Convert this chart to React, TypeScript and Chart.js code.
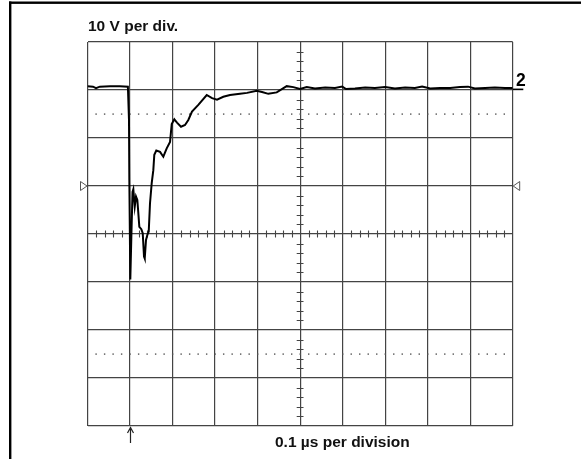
import { useEffect, useRef } from "react";
import { Chart, registerables } from "chart.js";

Chart.register(...registerables);

// time in ns (0 = trigger arrow), volts relative to the screen centre
const traceTime = [
  -100, -87, -80, -71, -47, -24, -5, -2.4, -1.6, 0.7, 3.5, 5.9, 7.8, 11.1,
  14.1, 17.2, 19.5, 21.9, 26.6, 29.9, 32.9, 34.6, 37.6, 40.7, 44.0, 47.0,
  51.0, 54.8, 57.1, 61.8, 70.6, 78.3, 86.3, 94.1, 98.1, 104.2, 110.5, 119.9,
  129.4, 137.1, 145.8, 160.6, 180.4, 192.9, 204.6, 219.4, 235.2, 258.7, 275.2,
  298.0, 310.4, 325.3, 345.0, 368.5, 384.1, 399.8, 415.6, 435, 459, 482, 499,
  508, 529, 553, 576, 600, 623, 647, 670, 687, 706, 729, 753, 776, 795, 811,
  835, 858, 882, 900,
];
const traceVolts = [
  30.8, 30.7, 30.4, 30.7, 30.8, 30.8, 30.7, 23.75, 11.25, -9.5, 0.8, 8.75,
  9.3, 5.7, 7.8, 7.1, 4.4, 1.5, 1.0, 0.15, -4.7, -5.1, -1.25, -0.2, 0.5, 6.4,
  10.6, 13.3, 16.5, 17.4, 17.1, 16.1, 17.85, 19.2, 22.9, 23.9, 23.2, 22.35,
  22.7, 23.75, 25.5, 26.9, 28.96, 28.3, 28.0, 28.6, 28.96, 29.2, 29.4, 29.85,
  29.6, 29.2, 29.5, 30.8, 30.6, 30.2, 30.6, 30.3, 30.5, 30.4, 30.7, 30.2,
  30.3, 30.5, 30.4, 30.6, 30.3, 30.5, 30.4, 30.7, 30.3, 30.4, 30.4, 30.6,
  30.7, 30.3, 30.4, 30.5, 30.4, 30.4,
];

const xMin = -100;
const xMax = 900;
const xDiv = 100;
const yMin = -40;
const yMax = 40;
const yDiv = 10;
const centerTime = 400;
const triggerTime = 0;
const markerVolts = 10;
const dottedVolts = [25, -25];
const channelLevel = 30.4;

const topLabel = "10 V per div.";
const bottomLabel = "0.1 µs per division";
const channelLabel = "2";

const gridColor = "#444";
const labelFont = "bold 15.5px 'Liberation Sans', Arial, sans-serif";

const scopePlugin = {
  id: "scopeDecor",
  beforeDatasetsDraw(chart: any) {
    const { ctx } = chart;
    const x = chart.scales.x;
    const y = chart.scales.y;
    const cx = x.getPixelForValue(centerTime);
    const cy = y.getPixelForValue(0);
    ctx.save();
    ctx.strokeStyle = gridColor;
    ctx.lineWidth = 1.1;
    ctx.beginPath();
    for (let t = xMin; t <= xMax; t += xDiv / 5) {
      if (t % xDiv === 0) continue;
      const px = Math.round(x.getPixelForValue(t)) + 0.5;
      ctx.moveTo(px, cy - 3.6);
      ctx.lineTo(px, cy + 3.6);
    }
    for (let v = yMin; v <= yMax; v += yDiv / 5) {
      if (v % yDiv === 0) continue;
      const py = Math.round(y.getPixelForValue(v)) + 0.5;
      ctx.moveTo(cx - 3.4, py);
      ctx.lineTo(cx + 3.4, py);
    }
    ctx.stroke();

    // dotted 10% / 90% lines
    ctx.fillStyle = "#555";
    dottedVolts.forEach((v) => {
      const py = y.getPixelForValue(v);
      for (let t = xMin + 20; t < xMax; t += 20) {
        const px = x.getPixelForValue(t);
        ctx.fillRect(px - 0.6, py - 0.6, 1.4, 1.4);
      }
    });
    ctx.restore();
  },
  afterDraw(chart: any) {
    const { ctx, chartArea } = chart;
    const x = chart.scales.x;
    const y = chart.scales.y;
    ctx.save();

    // page frame
    ctx.fillStyle = "#000";
    ctx.fillRect(9, 1.5, 572, 2.4);
    ctx.fillRect(9, 1.5, 2.4, 458);

    // level markers
    const my = y.getPixelForValue(markerVolts);
    ctx.strokeStyle = "#555";
    ctx.lineWidth = 1;
    ctx.beginPath();
    ctx.moveTo(chartArea.left - 0.5, my);
    ctx.lineTo(chartArea.left - 7, my - 4.5);
    ctx.lineTo(chartArea.left - 7, my + 4.5);
    ctx.closePath();
    ctx.moveTo(chartArea.right + 0.5, my);
    ctx.lineTo(chartArea.right + 7, my - 4.5);
    ctx.lineTo(chartArea.right + 7, my + 4.5);
    ctx.closePath();
    ctx.stroke();

    // trigger arrow
    const ax = Math.round(x.getPixelForValue(triggerTime)) + 0.5;
    ctx.strokeStyle = "#222";
    ctx.lineWidth = 1.2;
    ctx.beginPath();
    ctx.moveTo(ax, chartArea.bottom + 1);
    ctx.lineTo(ax, chartArea.bottom + 17);
    ctx.moveTo(ax - 3, chartArea.bottom + 7);
    ctx.lineTo(ax, chartArea.bottom + 1.5);
    ctx.lineTo(ax + 3, chartArea.bottom + 7);
    ctx.stroke();

    // channel marker
    const ly = y.getPixelForValue(channelLevel);
    ctx.fillStyle = "#000";
    ctx.fillRect(chartArea.right, ly + 0.5, 10.6, 1.6);
    ctx.font = "bold 17.5px 'Liberation Sans Narrow', 'Liberation Sans', Arial, sans-serif";
    ctx.textBaseline = "alphabetic";
    ctx.textAlign = "left";
    ctx.fillText(channelLabel, chartArea.right + 3.3, ly - 2.2);

    // labels
    ctx.fillStyle = "#111";
    ctx.font = labelFont;
    ctx.fillText(topLabel, chartArea.left + 0.5, chartArea.top - 11);
    ctx.fillText(bottomLabel, chartArea.left + 187.5, chartArea.bottom + 20.7);
    ctx.restore();
  },
};

export default function App() {
  const canvasRef = useRef<HTMLCanvasElement>(null);

  useEffect(() => {
    if (!canvasRef.current) return;
    const chart = new Chart(canvasRef.current, {
      type: "line",
      data: {
        datasets: [
          {
            data: traceTime.map((t, i) => ({ x: t, y: traceVolts[i] })),
            borderColor: "#000",
            borderWidth: 2,
            pointRadius: 0,
            tension: 0,
            fill: false,
          },
        ],
      },
      options: {
        responsive: false,
        animation: false,
        layout: { padding: { left: 87.5, right: 68.3, top: 42, bottom: 33 } },
        plugins: {
          legend: { display: false },
          tooltip: { enabled: false },
        },
        scales: {
          x: {
            type: "linear",
            min: xMin,
            max: xMax,
            ticks: { display: false, stepSize: xDiv },
            grid: { color: gridColor, lineWidth: 1.2, drawTicks: false },
            border: { display: false },
            afterFit: (s: any) => {
              s.height = 0;
            },
          },
          y: {
            type: "linear",
            min: yMin,
            max: yMax,
            ticks: { display: false, stepSize: yDiv },
            grid: { color: gridColor, lineWidth: 1.2, drawTicks: false },
            border: { display: false },
            afterFit: (s: any) => {
              s.width = 0;
            },
          },
        },
      },
      plugins: [scopePlugin],
    });
    return () => {
      chart.destroy();
    };
  }, []);

  return (
    <div
      style={{
        position: "absolute",
        left: 0,
        top: 0,
        width: 581,
        height: 459,
        background: "#fff",
      }}
    >
      <canvas ref={canvasRef} width={581} height={459} style={{ display: "block" }} />
    </div>
  );
}
